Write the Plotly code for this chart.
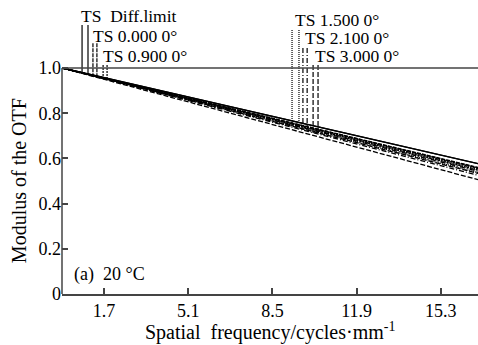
import numpy as np
import plotly.graph_objects as go

# ---------------- data ----------------
freq = [0.0, 8.5, 17.0]
diff_limit = [1.0, 0.786, 0.572]
f0000_T = [1.0, 0.776, 0.553]
f0000_S = [1.0, 0.777, 0.555]
f0900_T = [1.0, 0.771, 0.543]
f0900_S = [1.0, 0.775, 0.550]
f1500_T = [1.0, 0.766, 0.532]
f1500_S = [1.0, 0.772, 0.545]
f2100_T = [1.0, 0.760, 0.520]
f2100_S = [1.0, 0.769, 0.538]
f3000_T = [1.0, 0.750, 0.500]
f3000_S = [1.0, 0.764, 0.528]

x_tickvals = [1.7, 5.1, 8.5, 11.9, 15.3]
x_ticktext = ["1.7", "5.1", "8.5", "11.9", "15.3"]
y_tickvals = [0, 0.2, 0.4, 0.6, 0.8, 1.0]
y_ticktext = ["0", "0.2", "0.4", "0.6", "0.8", "1.0"]

field_labels = ["TS\u00a0\u00a0Diff.limit", "TS 0.000 0°", "TS 0.900 0°",
                "TS 1.500 0°", "TS 2.100 0°", "TS 3.000 0°"]

# ---------------- styles / layout config ----------------
FONT = "Times New Roman, Liberation Serif, DejaVu Serif, serif"
series = [
    (diff_limit, diff_limit, "solid"),
    (f0000_T, f0000_S, "4px,1px"),
    (f0900_T, f0900_S, "2px,1px"),
    (f1500_T, f1500_S, "1px,1px"),
    (f2100_T, f2100_S, "5px,2px,1px,2px"),
    (f3000_T, f3000_S, "5px,2px"),
]
# legend marker line positions (x of T, x of S, top y) and label anchor (x, y)
legend_pos = [
    (0.81, 1.05, 1.19, 0.69, 1.228),
    (1.25, 1.41, 1.11, 1.17, 1.142),
    (1.66, 1.82, 1.013, 1.58, 1.052),
    (9.29, 9.57, 1.168, 9.33, 1.212),
    (9.73, 9.90, 1.088, 9.73, 1.133),
    (10.14, 10.34, 1.013, 10.14, 1.054),
]

fig = go.Figure()
for (T, S, dash) in series:
    for vals in (T, S):
        fig.add_trace(go.Scatter(x=freq, y=vals, mode="lines",
                                 line=dict(color="black", width=1.3, dash=dash),
                                 showlegend=False, hoverinfo="skip"))

annotations = []
for (T, S, dash), (xt, xs, ytop, lx, ly), lab in zip(series, legend_pos, field_labels):
    for xv, vals in ((xt, T), (xs, S)):
        yc = float(np.interp(xv, freq, vals))
        fig.add_trace(go.Scatter(x=[xv, xv], y=[ytop, yc], mode="lines",
                                 line=dict(color="black", width=1.2, dash=dash),
                                 showlegend=False, hoverinfo="skip"))
    annotations.append(dict(x=lx, y=ly, xref="x", yref="y", text=lab,
                            showarrow=False, xanchor="left", yanchor="middle",
                            font=dict(family=FONT, size=17.5, color="black")))

annotations.append(dict(x=0.4, y=0.088, xref="x", yref="y", text="(a)\u00a0\u00a020\u00a0°C",
                        showarrow=False, xanchor="left", yanchor="middle",
                        font=dict(family=FONT, size=18, color="black")))
annotations.append(dict(x=-0.103, y=0.5, xref="paper", yref="y", text="Modulus of the OTF",
                        textangle=-90, showarrow=False, xanchor="center", yanchor="middle",
                        font=dict(family=FONT, size=20, color="black")))
annotations.append(dict(x=0.5, y=-0.127, xref="paper", yref="paper",
                        text="Spatial\u00a0\u00a0frequency/cycles·mm<sup>-1</sup>",
                        showarrow=False, xanchor="center", yanchor="middle",
                        font=dict(family=FONT, size=20, color="black")))

shapes = [
    dict(type="line", xref="paper", yref="y", x0=0, x1=0, y0=0, y1=1.0,
         line=dict(color="#444", width=1.5)),
    dict(type="line", xref="paper", yref="y", x0=0, x1=1, y0=1.0, y1=1.0,
         line=dict(color="#444", width=1.5)),
]

fig.update_layout(
    width=478, height=345,
    margin=dict(l=62, r=0, t=0, b=51),
    paper_bgcolor="white", plot_bgcolor="white",
    showlegend=False,
    font=dict(family=FONT),
    annotations=annotations, shapes=shapes,
    xaxis=dict(range=[0, 16.8], tickvals=x_tickvals, ticktext=x_ticktext,
               ticks="inside", ticklen=6, tickwidth=1.5, tickcolor="#444",
               showline=True, linecolor="#444", linewidth=1.5,
               showgrid=False, zeroline=False,
               tickfont=dict(family=FONT, size=18, color="black")),
    yaxis=dict(range=[0, 1.3009], tickvals=y_tickvals, ticktext=y_ticktext,
               ticks="inside", ticklen=6, tickwidth=1.5, tickcolor="#444",
               showline=False, showgrid=False, zeroline=False,
               tickfont=dict(family=FONT, size=18, color="black")),
)

fig.write_html("out.html")
